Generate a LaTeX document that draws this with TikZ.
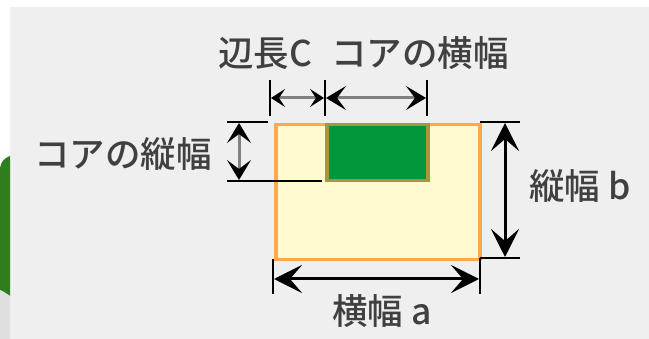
\documentclass[tikz,border=0pt]{standalone}
\usepackage{fontspec}
\setmainfont{Noto Sans CJK JP}[BoldFont={Noto Sans CJK JP Medium}]
\usetikzlibrary{arrows.meta}
\definecolor{bgc}{HTML}{EFEFEF}
\definecolor{outfill}{HTML}{FFFBCF}
\definecolor{outline}{HTML}{FFA94A}
\definecolor{corefill}{HTML}{00963A}
\definecolor{coreline}{HTML}{A8963C}
\definecolor{leaf}{HTML}{2E7D1E}
\tikzset{
  lbl/.style={inner sep=0pt, text=black!75, font=\fontsize{35.5}{40}\selectfont\bfseries},
  outerbox/.style={draw=outline, fill=outfill, line width=3.5pt, inner sep=0pt},
  corebox/.style={draw=coreline, fill=corefill, line width=3.5pt, inner sep=0pt},
  tickline/.style={line width=2.6pt, draw=black},
  bighead/.style={{Stealth[length=28pt,width=28pt,inset=12pt]}-{Stealth[length=28pt,width=28pt,inset=12pt]}},
  midhead/.style={{Stealth[length=20pt,width=24pt,inset=9pt,black]}-{Stealth[length=20pt,width=24pt,inset=9pt,black]}},
  smallhead/.style={{Stealth[length=14pt,width=18pt,inset=6pt,black]}-{Stealth[length=14pt,width=18pt,inset=6pt,black]}},
  dimblack/.style={line width=3pt, draw=black},
  dimgray/.style={line width=3pt, draw=black!50}
}
\begin{document}
\begin{tikzpicture}[x=1pt,y=-1pt]
\useasboundingbox (0,0) rectangle (649,339);
\fill[white] (0,0) rectangle (649,339);
\fill[bgc] (10,7) rectangle (649,339);
\fill[leaf] (10,156) .. controls (4,158) and (1,162) .. (0,168) -- (0,290) .. controls (4,292) .. (10,296) -- cycle;
\fill[gray!25] (0,290) .. controls (4,292) .. (10,296) -- (10,339) -- (0,339) -- cycle;

% boxes
\node[outerbox, minimum width=204pt, minimum height=135pt, anchor=north west] (outer) at (274,123) {};
\node[corebox, minimum width=101pt, minimum height=56pt, anchor=north west] (core) at (325,123) {};

% labels
\node[lbl] (lc) at (265,53) {辺長C};
\node[lbl] (lcw) at (420,53) {コアの横幅};
\node[lbl] (lch) at (123,154) {コアの縦幅};
\node[lbl] (lb) at (580,186) {縦幅 b};
\node[lbl] (la) at (382,311) {横幅 a};

% top dimension
\coordinate (t1u) at (270,80); \coordinate (t1d) at (270,116);
\coordinate (t2u) at (325,80); \coordinate (t2d) at (325,116);
\coordinate (t3u) at (427,80); \coordinate (t3d) at (427,116);
\draw[tickline] (t1u) -- (t1d);
\draw[tickline] (t2u) -- (t2d);
\draw[tickline] (t3u) -- (t3d);
\coordinate (a1l) at (271,98); \coordinate (a1r) at (324,98);
\coordinate (a2l) at (326,98); \coordinate (a2r) at (426,98);
\draw[dimgray, smallhead] (a1l) -- (a1r);
\draw[dimgray, midhead] (a2l) -- (a2r);

% left dimension
\coordinate (l1a) at (227,122); \coordinate (l1b) at (268,122);
\coordinate (l2a) at (227,181); \coordinate (l2b) at (322,181);
\draw[tickline] (l1a) -- (l1b);
\draw[tickline] (l2a) -- (l2b);
\coordinate (v1u) at (239,123); \coordinate (v1d) at (239,180);
\draw[dimgray, midhead] (v1u) -- (v1d);

% right dimension
\coordinate (r1a) at (480,122); \coordinate (r1b) at (520,122);
\coordinate (r2a) at (480,258); \coordinate (r2b) at (520,258);
\draw[tickline] (r1a) -- (r1b);
\draw[tickline] (r2a) -- (r2b);
\coordinate (v2u) at (505,123); \coordinate (v2d) at (505,257);
\draw[dimblack, bighead] (v2u) -- (v2d);

% bottom dimension
\coordinate (b1u) at (273,259); \coordinate (b1d) at (273,294);
\coordinate (b2u) at (480,258); \coordinate (b2d) at (480,294);
\draw[tickline] (b1u) -- (b1d);
\draw[tickline] (b2u) -- (b2d);
\coordinate (h1l) at (274,279); \coordinate (h1r) at (479,279);
\draw[dimblack, bighead] (h1l) -- (h1r);
\end{tikzpicture}
\end{document}
